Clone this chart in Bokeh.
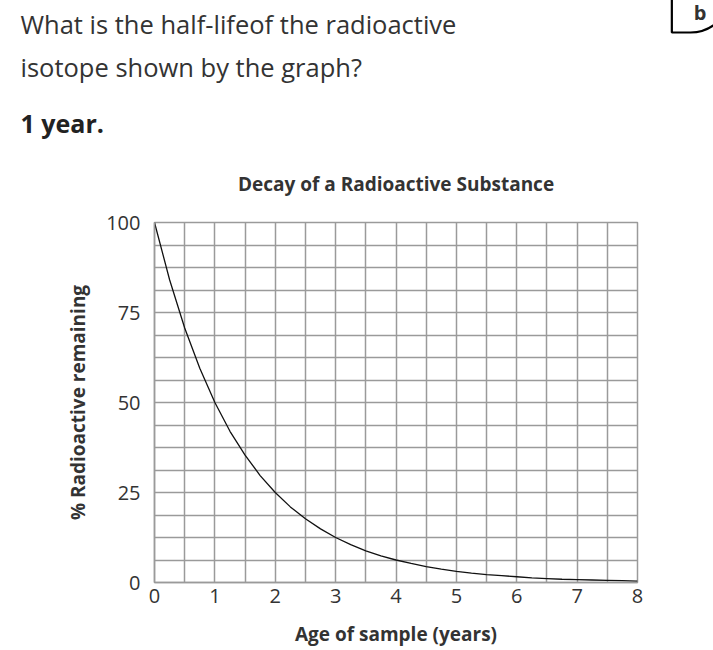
from bokeh.plotting import figure
from bokeh.models import Range1d, FixedTicker, Title
from bokeh.embed import file_html
from bokeh.resources import INLINE

# ---- data ----
years = [0, 0.25, 0.5, 0.75, 1, 1.25, 1.5, 1.75, 2, 2.25, 2.5, 2.75, 3, 3.25, 3.5, 3.75,
         4, 4.25, 4.5, 4.75, 5, 5.25, 5.5, 5.75, 6, 6.25, 6.5, 6.75, 7, 7.25, 7.5, 7.75, 8]
remaining = [100, 84.1, 70.7, 59.5, 50, 42.0, 35.4, 29.7, 25, 21.0, 17.7, 14.9, 12.5, 10.5, 8.8, 7.4,
             6.25, 5.3, 4.4, 3.7, 3.1, 2.6, 2.2, 1.9, 1.6, 1.3, 1.1, 0.9, 0.8, 0.7, 0.6, 0.5, 0.4]
x_ticks = [0, 1, 2, 3, 4, 5, 6, 7, 8]
y_ticks = [0, 25, 50, 75, 100]
grid_x = [0, 0.5, 1, 1.5, 2, 2.5, 3, 3.5, 4, 4.5, 5, 5.5, 6, 6.5, 7, 7.5, 8]
grid_y = [0, 6.25, 12.5, 18.75, 25, 31.25, 37.5, 43.75, 50, 56.25, 62.5, 68.75,
          75, 81.25, 87.5, 93.75, 100]
question = ["What is the half-lifeof the radioactive", "isotope shown by the graph?"]
answer = "1 year."
badge = "b"
title_text = "Decay of a Radioactive Substance"
x_label = "Age of sample (years)"
y_label = "% Radioactive remaining"

W, H = 713, 650
FL, FR, FT, FB = 154, 637, 222, 582   # frame edges in canvas pixels

p = figure(width=W, height=H, output_backend="svg", toolbar_location=None,
           x_range=Range1d(0, 8), y_range=Range1d(0, 100), title=None,
           min_border_left=FL, min_border_right=W - FR, min_border_top=FT,
           min_border_bottom=H - FB,
           outline_line_color="#9a9a9a", outline_line_width=1.5)

p.line(years, remaining, line_color="#111111", line_width=1.3)

p.xaxis.ticker = FixedTicker(ticks=x_ticks)
p.yaxis.ticker = FixedTicker(ticks=y_ticks)
p.xgrid.ticker = FixedTicker(ticks=grid_x)
p.ygrid.ticker = FixedTicker(ticks=grid_y)
p.grid.grid_line_color = "#9a9a9a"
p.grid.grid_line_width = 1.5
p.grid.grid_line_alpha = 1.0

for ax in (p.xaxis, p.yaxis):
    ax.axis_line_color = "#9a9a9a"
    ax.axis_line_width = 1.5
    ax.major_tick_line_color = None
    ax.minor_tick_line_color = None
    ax.major_label_text_font = "Open Sans"
    ax.major_label_text_font_size = "20px"
    ax.major_label_text_color = "#333333"
    ax.axis_label_text_font = "Open Sans"
    ax.axis_label_text_font_size = "19px"
    ax.axis_label_text_font_style = "bold"
    ax.axis_label_text_color = "#333333"
p.xaxis.axis_label = x_label
p.yaxis.axis_label = y_label
p.xaxis.major_label_standoff = 0
p.yaxis.major_label_standoff = 8
p.xaxis.axis_label_standoff = 15
p.yaxis.axis_label_standoff = 12

# ---- stacked texts above the frame (nearest first) ----
OFF = 20 - FL
p.add_layout(Title(text=title_text, align="center", text_font="Open Sans",
                   text_font_size="19px", text_font_style="bold", text_color="#333333",
                   standoff=52), "above")
p.add_layout(Title(text=answer, align="left", offset=OFF, text_font="Open Sans",
                   text_font_size="25px", text_font_style="bold", text_color="#222222",
                   standoff=6), "above")
p.add_layout(Title(text=question[1], align="left", offset=OFF, text_font="Open Sans",
                   text_font_size="25.5px", text_font_style="normal", text_color="#333333",
                   standoff=33), "above")
p.add_layout(Title(text=question[0], align="left", offset=OFF, text_font="Open Sans",
                   text_font_size="25.5px", text_font_style="normal", text_color="#333333",
                   standoff=-19), "above")
# corner badge with its ring (rounded lower-left corner of the label box)
p.add_layout(Title(text=badge, align="right", offset=-(730 - FR), text_font="Open Sans",
                   text_font_size="20px", text_font_style="bold", text_color="#333333",
                   standoff=-36, padding=(22, 24, 8, 7), border_radius=(0, 0, 40, 0),
                   border_line_color="black", border_line_width=2.2), "above")

open("out.html", "w").write(file_html(p, INLINE))
